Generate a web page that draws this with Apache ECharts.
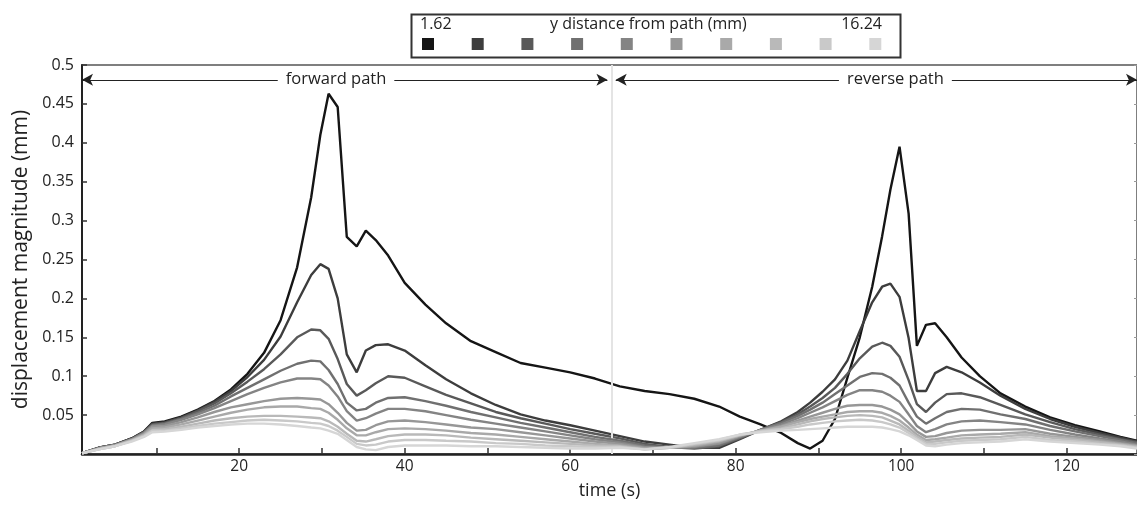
<!DOCTYPE html>
<html>
<head>
<meta charset="utf-8">
<script src="https://cdn.jsdelivr.net/npm/echarts@6/dist/echarts.min.js"></script>
<style>
  html, body { margin: 0; padding: 0; background: #fff; }
  #chart { width: 1137px; height: 505px; }
</style>
</head>
<body>
<div id="chart"></div>
<script>
// time samples (s), shared by all ten curves
const times = [1, 3, 5, 7, 8.5, 9.5, 11, 13, 15, 17, 19, 21, 23, 25, 27, 28.7, 29.8, 30.8, 31.9, 33,
  34.2, 35.3, 36.5, 38, 40, 42.5, 45, 48, 51, 54, 57, 60, 63, 66, 69, 72, 75, 78, 80.5, 83,
  85.5, 87.5, 89, 90.5, 92, 93.5, 95, 96.5, 97.7, 98.7, 99.8, 100.9, 101.9, 103, 104.1,
  105.5, 107.3, 109.5, 112, 115, 118, 121, 124, 126.5, 128.5]

// displacement magnitude (mm), nearest (1.62 mm) to farthest (16.24 mm)
const disp1 = [.001,.008,.012,.020,.029, .040,.042,.048,.057,.068, .083,.103,.130,.172,.240, .330,.410,.463,.446,.279,
  .267,.287,.275,.255,.220, .192,.168,.145,.131,.117, .111,.105,.097,.087,.081, .077,.071,.061,.048,.038,
  .027,.014,.007,.017,.045, .098,.150,.215,.280,.340, .395,.309,.139,.166,.168, .150,.124,.100,.078,.061,
  .047,.037,.029,.022,.017]
const disp2 = [.001,.008,.012,.020,.029, .039,.041,.047,.056,.067, .081,.099,.121,.151,.195, .230,.244,.238,.200,.128,
  .105,.133,.140,.141,.133, .114,.096,.078,.063,.051, .043,.037,.030,.023,.016, .012,.008,.008,.019,.031,
  .042,.054,.066,.080,.096, .120,.158,.195,.215,.219, .202,.149,.081,.081,.104, .112,.105,.092,.075,.058,
  .045,.035,.027,.021,.016]
const disp3 = [.001,.008,.012,.019,.028, .038,.040,.046,.055,.065, .078,.093,.109,.128,.150, .160,.159,.148,.122,.090,
  .075,.082,.091,.100,.098, .087,.076,.065,.054,.046, .039,.032,.026,.020,.013, .009,.007,.010,.020,.031,
  .041,.051,.061,.072,.085, .103,.123,.138,.143,.139, .125,.095,.064,.054,.066, .077,.078,.073,.063,.051,
  .041,.032,.025,.019,.015]
const disp4 = [.001,.008,.012,.019,.028, .037,.039,.045,.053,.062, .074,.085,.096,.107,.116, .120,.119,.108,.090,.066,
  .056,.058,.066,.072,.073, .068,.062,.054,.047,.040, .034,.028,.022,.017,.011, .008,.008,.011,.021,.031,
  .040,.049,.057,.066,.077, .088,.099,.104,.103,.098, .088,.066,.048,.039,.046, .054,.058,.057,.051,.045,
  .036,.029,.023,.018,.014]
const disp5 = [.001,.007,.011,.019,.027, .036,.038,.044,.051,.059, .068,.077,.085,.092,.097, .097,.096,.088,.074,.055,
  .043,.046,.052,.058,.058, .055,.050,.044,.039,.034, .029,.024,.019,.015,.009, .008,.009,.013,.022,.031,
  .038,.046,.053,.060,.068, .076,.082,.082,.080,.075, .067,.051,.036,.028,.032, .038,.042,.043,.041,.038,
  .031,.025,.020,.016,.012]
const disp6 = [.001,.007,.011,.018,.026, .035,.036,.041,.047,.054, .060,.064,.068,.071,.072, .071,.070,.064,.053,.040,
  .030,.031,.037,.042,.043, .041,.038,.034,.032,.028, .024,.020,.016,.013,.008, .008,.010,.014,.023,.030,
  .036,.043,.048,.053,.058, .062,.063,.063,.061,.057, .051,.040,.029,.022,.023, .027,.030,.031,.031,.032,
  .026,.022,.018,.014,.011]
const disp7 = [.001,.007,.011,.018,.025, .033,.034,.038,.043,.048, .053,.057,.060,.061,.061, .059,.058,.053,.044,.033,
  .024,.024,.028,.032,.033, .032,.030,.027,.025,.022, .019,.016,.013,.011,.007, .008,.011,.016,.024,.030,
  .035,.041,.045,.048,.051, .054,.055,.055,.053,.049, .043,.034,.025,.018,.019, .021,.024,.025,.026,.028,
  .023,.020,.016,.013,.010]
const disp8 = [.001,.006,.010,.017,.024, .031,.032,.035,.039,.043, .046,.048,.049,.049,.048, .047,.046,.042,.035,.026,
  .017,.016,.019,.023,.025, .025,.024,.021,.019,.017, .015,.013,.011,.010,.006, .008,.012,.017,.024,.030,
  .033,.038,.042,.045,.047, .049,.050,.049,.047,.043, .038,.030,.022,.015,.016, .018,.020,.021,.022,.025,
  .021,.018,.015,.012,.009]
const disp9 = [.001,.006,.010,.017,.023, .030,.030,.033,.036,.039, .041,.043,.044,.043,.042, .040,.039,.036,.030,.022,
  .013,.011,.012,.016,.018, .018,.017,.016,.014,.013, .011,.010,.009,.009,.006, .008,.013,.018,.025,.029,
  .032,.035,.038,.040,.042, .043,.044,.043,.041,.038, .034,.027,.020,.013,.013, .015,.017,.018,.019,.022,
  .018,.016,.013,.011,.008]
const disp10 = [.001,.006,.010,.016,.022, .028,.029,.031,.034,.036, .038,.039,.039,.038,.036, .034,.033,.030,.026,.018,
  .009,.006,.005,.009,.011, .011,.011,.010,.010,.009, .008,.007,.007,.008,.006, .009,.014,.019,.025,.028,
  .030,.031,.032,.033,.034, .035,.035,.035,.034,.032, .029,.024,.018,.011,.010, .012,.014,.015,.016,.019,
  .016,.014,.012,.010,.007]

const curves = [disp1, disp2, disp3, disp4, disp5, disp6, disp7, disp8, disp9, disp10]
const curveNames = ['1.62', 'd2', 'd3', 'd4', 'd5', 'd6', 'd7', 'd8', 'd9', '16.24']
const grays = ['#151515', '#3d3d3d', '#595959', '#707070', '#848484', '#979797', '#a9a9a9', '#b9b9b9', '#c9c9c9', '#d6d6d6']

const xLabelValues = [20, 40, 60, 80, 100, 120]
const xTickValues = [10, 20, 30, 40, 50, 60, 70, 80, 90, 100, 110, 120]
const pathSplit = 65 // forward / reverse change-over (s)
const pathLabels = [{ name: 'forward path', t: 31.7 }, { name: 'reverse path', t: 99.3 }]

const font = '"Open Sans", "Noto Sans", sans-serif'
const ink = '#222'

const chart = echarts.init(document.getElementById('chart'))

const series = curves.map((vals, i) => ({
  name: curveNames[i],
  type: 'line',
  data: times.map((t, k) => [t, vals[k]]),
  symbol: 'none',
  lineStyle: { color: grays[i], width: 2.4 },
  itemStyle: { color: grays[i] },
  z: 2 + i
}))

// arrows, labels and the vertical divider sit on an empty helper series
series.push({
  name: 'paths',
  type: 'line',
  data: [],
  silent: true,
  z: 20,
  markLine: {
    silent: true,
    symbol: ['arrow', 'arrow'],
    symbolSize: [9, 11],
    lineStyle: { color: ink, width: 1, type: 'solid' },
    label: { show: false },
    data: [
      [{ coord: [1, 0.481] }, { coord: [pathSplit - 0.5, 0.481] }],
      [{ coord: [pathSplit + 0.5, 0.481] }, { coord: [128.5, 0.481] }],
      [{ coord: [pathSplit, 0], symbol: 'none', lineStyle: { color: '#e4e4e4', width: 2 } },
       { coord: [pathSplit, 0.5], symbol: 'none' }]
    ]
  },
  markPoint: {
    silent: true,
    symbol: 'rect',
    symbolSize: 1,
    itemStyle: { color: 'transparent' },
    label: {
      show: true,
      position: 'inside',
      formatter: p => p.name,
      color: ink,
      fontFamily: font,
      fontSize: 16.5,
      backgroundColor: '#fff',
      padding: [0, 8]
    },
    data: pathLabels.map(p => ({ name: p.name, coord: [p.t, 0.481] }))
  }
})

chart.setOption({
  animation: false,
  grid: {
    left: 82, top: 65, right: 0, bottom: 48,
    show: true, borderColor: '#555', borderWidth: 1.5
  },
  legend: {
    data: curveNames,
    left: 422,
    top: 38,
    padding: 0,
    itemWidth: 12,
    itemHeight: 12,
    itemGap: 37.7,
    icon: 'rect',
    selectedMode: false,
    formatter: () => '',
    textStyle: { fontSize: 1 }
  },
  graphic: [
    { type: 'rect', left: 409, top: 12, shape: { width: 489, height: 43 },
      style: { fill: 'none', stroke: '#333', lineWidth: 2 } },
    { type: 'text', left: 420, top: 16, style: { text: '1.62', fontFamily: font, fontSize: 16, fill: ink } },
    { type: 'text', left: 550, top: 16, style: { text: 'y distance from path (mm)', fontFamily: font, fontSize: 16, fill: ink } },
    { type: 'text', right: 1137 - 882, top: 16, style: { text: '16.24', fontFamily: font, fontSize: 16, fill: ink } }
  ],
  xAxis: {
    type: 'value',
    min: 1,
    max: 128.5,
    name: 'time (s)',
    nameLocation: 'middle',
    nameGap: 28,
    nameTextStyle: { fontFamily: font, fontSize: 18, color: ink },
    axisLine: { lineStyle: { color: ink, width: 2.5 } },
    axisTick: { inside: true, length: 6, customValues: xTickValues, lineStyle: { color: '#333', width: 1.5 } },
    axisLabel: { customValues: xLabelValues, fontFamily: font, fontSize: 15.5, color: ink, margin: 5 },
    splitLine: { show: false }
  },
  yAxis: [{
    type: 'value',
    min: 0,
    max: 0.5,
    interval: 0.05,
    name: 'displacement magnitude (mm)',
    nameLocation: 'middle',
    nameGap: 45,
    nameTextStyle: { fontFamily: font, fontSize: 21, color: ink },
    axisLine: { show: true, lineStyle: { color: ink, width: 2 } },
    axisTick: { show: true, inside: true, length: 5, lineStyle: { color: '#333', width: 1.5 } },
    axisLabel: {
      fontFamily: font, fontSize: 16, color: ink, margin: 8,
      formatter: v => v === 0 ? '' : String(+v.toFixed(2))
    },
    splitLine: { show: false }
  }, {
    type: 'value',
    position: 'right',
    min: 0,
    max: 0.5,
    interval: 0.05,
    axisLine: { show: false },
    axisTick: { show: true, inside: true, length: 3, lineStyle: { color: '#999' } },
    axisLabel: { show: false },
    splitLine: { show: false }
  }],
  series
})
</script>
</body>
</html>
